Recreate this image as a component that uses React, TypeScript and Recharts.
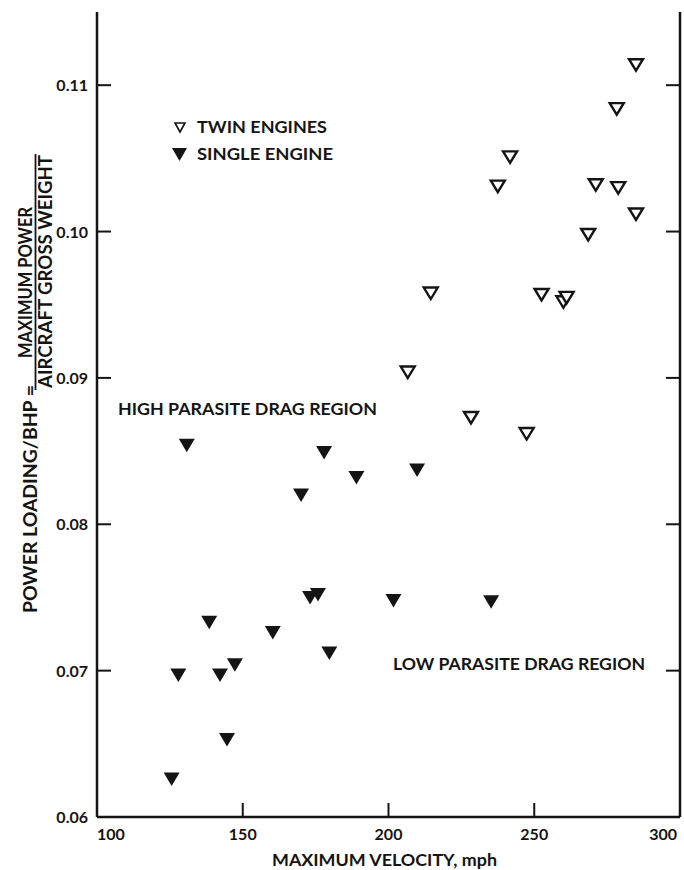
import { ScatterChart, Scatter, XAxis, YAxis } from "recharts"

// values
const xTicks = [100, 150, 200, 250, 300]
const yTicks = [0.06, 0.07, 0.08, 0.09, 0.1, 0.11]

const twinSpeed = [284.9, 278.3, 241.7, 237.5, 271.1, 278.8, 284.9, 268.5, 214.5, 252.5, 260.0, 261.1, 206.6, 228.3, 247.4]
const twinLoading = [0.1114, 0.1084, 0.1051, 0.1031, 0.1032, 0.103, 0.1012, 0.0998, 0.0958, 0.0957, 0.0952, 0.0955, 0.0904, 0.0873, 0.0862]

const singleSpeed = [130.8, 177.9, 170.0, 189.0, 209.8, 173.1, 175.8, 138.5, 160.3, 179.7, 127.9, 142.2, 147.3, 144.6, 125.6, 201.7, 235.2]
const singleLoading = [0.0854, 0.0849, 0.082, 0.0832, 0.0837, 0.075, 0.0752, 0.0733, 0.0726, 0.0712, 0.0697, 0.0697, 0.0704, 0.0653, 0.0626, 0.0748, 0.0747]

const twinData = twinSpeed.map((v, i) => ({ v, p: twinLoading[i] }))
const singleData = singleSpeed.map((v, i) => ({ v, p: singleLoading[i] }))

const INK = "#141414"
const FONT = "Lato, 'DejaVu Sans', sans-serif"

const filledTri = (p: any) => (
  <polygon
    points={`${p.cx - 8},${p.cy - 6.5} ${p.cx + 8},${p.cy - 6.5} ${p.cx},${p.cy + 7}`}
    fill={INK}
  />
)

const openTri = (p: any) => (
  <polygon
    points={`${p.cx - 7},${p.cy - 5.5} ${p.cx + 7},${p.cy - 5.5} ${p.cx},${p.cy + 6}`}
    fill="#fff"
    stroke={INK}
    strokeWidth={2.4}
    strokeLinejoin="miter"
  />
)

const XTick = (props: any) => {
  const { x, y, payload } = props
  const v = payload.value
  const anchor = v === 100 ? "start" : v === 300 ? "end" : "middle"
  const dx = v === 300 ? 5 : 0
  return (
    <text x={x + dx} y={y + 15} textAnchor={anchor} fontFamily={FONT} fontWeight={700} fontSize={16} fill={INK}>
      {v}
    </text>
  )
}

const YTick = (props: any) => {
  const { x, y, payload } = props
  return (
    <text x={x} y={y + 6} textAnchor="end" fontFamily={FONT} fontWeight={700} fontSize={16} fill={INK}>
      {Number(payload.value).toFixed(2)}
    </text>
  )
}

const NoTick = () => <g />

export default function App() {
  return (
    <div style={{ position: "absolute", left: 0, top: 0, width: 684, height: 870, background: "#fff" }}>
      <ScatterChart width={684} height={870} margin={{ top: 12, right: 4, bottom: 23, left: 37 }}>
        {/* labelled axes, ticks drawn inward */}
        <XAxis
          xAxisId="x"
          dataKey="v"
          type="number"
          domain={[100, 300]}
          ticks={xTicks}
          height={30}
          tickSize={-14}
          tickMargin={22}
          tickLine={{ stroke: INK, strokeWidth: 2 }}
          axisLine={{ stroke: INK, strokeWidth: 2.5 }}
          tick={<XTick />}
        />
        <YAxis
          yAxisId="y"
          dataKey="p"
          type="number"
          domain={[0.06, 0.115]}
          ticks={yTicks}
          width={60}
          tickSize={-14}
          tickMargin={23}
          tickLine={{ stroke: INK, strokeWidth: 2 }}
          axisLine={{ stroke: INK, strokeWidth: 2.5 }}
          tick={<YTick />}
        />
        {/* frame: top and right */}
        <XAxis
          xAxisId="top"
          orientation="top"
          dataKey="v"
          type="number"
          domain={[100, 300]}
          ticks={xTicks}
          height={0}
          tickSize={-13}
          tickLine={{ stroke: INK, strokeWidth: 2 }}
          axisLine={{ stroke: INK, strokeWidth: 2.5 }}
          tick={<NoTick />}
        />
        <YAxis
          yAxisId="right"
          orientation="right"
          dataKey="p"
          type="number"
          domain={[0.06, 0.115]}
          ticks={yTicks}
          mirror
          tickSize={14}
          tickLine={{ stroke: INK, strokeWidth: 2 }}
          axisLine={{ stroke: INK, strokeWidth: 2.5 }}
          tick={<NoTick />}
        />
        <Scatter xAxisId="x" yAxisId="y" data={singleData} shape={filledTri} isAnimationActive={false} />
        <Scatter xAxisId="top" yAxisId="right" data={twinData} shape={openTri} isAnimationActive={false} />
      </ScatterChart>

      {/* labels laid over the plot */}
      <svg
        width={684}
        height={870}
        style={{ position: "absolute", left: 0, top: 0, pointerEvents: "none" }}
        fontFamily={FONT}
        fontWeight={700}
        fill={INK}
      >
        <polygon points="175,123 185,123 180,132" fill="#fff" stroke={INK} strokeWidth={1.6} />
        <text x={197} y={133} fontSize={17} textLength={130} lengthAdjust="spacingAndGlyphs">
          TWIN ENGINES
        </text>
        <polygon points="172,148 187,148 179.5,161" fill={INK} />
        <text x={197} y={160} fontSize={17} textLength={136} lengthAdjust="spacingAndGlyphs">
          SINGLE ENGINE
        </text>

        <text x={118} y={415} fontSize={17} textLength={259} lengthAdjust="spacingAndGlyphs">
          HIGH PARASITE DRAG REGION
        </text>
        <text x={393} y={670} fontSize={17} textLength={252} lengthAdjust="spacingAndGlyphs">
          LOW PARASITE DRAG REGION
        </text>

        <text x={272} y={866} fontSize={17} textLength={225} lengthAdjust="spacingAndGlyphs">
          MAXIMUM VELOCITY, mph
        </text>

        <text
          transform="translate(37,613) rotate(-90)"
          fontSize={18}
          textLength={228}
          lengthAdjust="spacingAndGlyphs"
        >
          POWER LOADING/BHP =
        </text>
        <text
          transform="translate(32,358) rotate(-90)"
          fontSize={18}
          textLength={151}
          lengthAdjust="spacingAndGlyphs"
        >
          MAXIMUM POWER
        </text>
        <line x1={35.5} y1={390} x2={35.5} y2={154} stroke={INK} strokeWidth={1.8} />
        <text
          transform="translate(52,388) rotate(-90)"
          fontSize={18}
          textLength={233}
          lengthAdjust="spacingAndGlyphs"
        >
          AIRCRAFT GROSS WEIGHT
        </text>
      </svg>
    </div>
  )
}
